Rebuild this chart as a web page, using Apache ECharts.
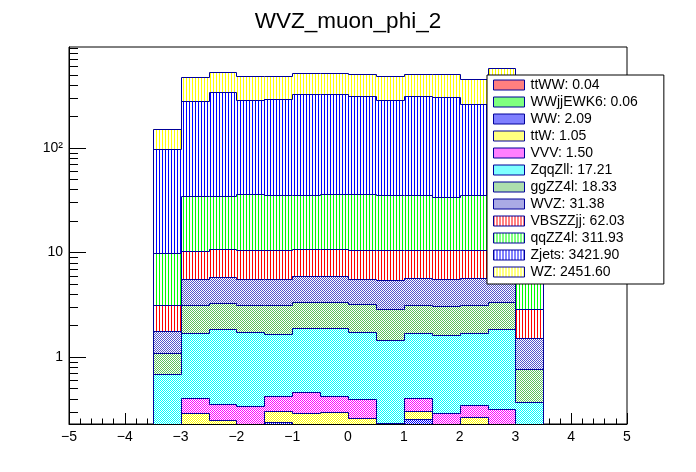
<!DOCTYPE html>
<html>
<head>
<meta charset="utf-8">
<script src="https://cdn.jsdelivr.net/npm/echarts@6/dist/echarts.min.js"></script>
<style>
  html,body{margin:0;padding:0;background:#fff;}
  #main{width:696px;height:472px;}
</style>
</head>
<body>
<div id="main"></div>
<script>
// bins of 0.5 from -3.5 to 3.5 (lower edges)
const binLow = [-3.5,-3,-2.5,-2,-1.5,-1,-0.5,0,0.5,1,1.5,2,2.5,3];
const BIN_W = 0.5;

// per-bin contents, stacked bottom -> top in this order
const ttWW     = [0,0,0,0,0.01,0,0.01,0,0,0.01,0,0.01,0,0];
const WWjjEWK6 = [0,0,0,0.015,0,0.015,0,0,0.015,0,0.015,0,0,0];
const WW       = [0.05,0.18,0.2,0.15,0.227,0.19,0.17,0.16,0.1,0.245,0.12,0.16,0.1,0.04];
const ttW      = [0.08,0.113,0.048,0.05,0.065,0.084,0.116,0.099,0.08,0.047,0.07,0.097,0.07,0.03];
const VVV      = [0.08,0.11,0.109,0.1225,0.121,0.171,0.127,0.137,0.039,0.101,0.084,0.08,0.146,0.07];
const ZqqZll   = [0.478,1.294,1.484,1.398,1.226,1.422,1.459,1.339,1.211,1.294,1.335,1.35,1.525,0.229];
const ggZZ4l   = [0.397,1.448,1.424,1.41,1.496,1.456,1.456,1.459,1.415,1.448,1.452,1.448,1.497,0.394];
const WVZ      = [0.677,2.396,2.565,2.433,2.433,2.621,2.582,2.384,2.56,2.52,2.502,2.557,2.45,0.747];
const VBSZZjj  = [1.383,4.8,4.97,4.99,4.99,4.84,4.88,4.99,5.08,4.835,4.92,4.8,4.3,1.35];
const qqZZ4l   = [6.69,24.62,24.16,25.49,24.7,24.47,25.26,25.49,24.77,24.77,23.25,24.77,26,6.9];
const Zjets    = [87.4,244.8,308.5,250,257.1,291.2,290.4,276.3,250.7,277.1,271.9,226.7,300,80];
const WZ       = [54,195,186.5,200,194,192,192,191,200,195,201,192.5,243,50];

const names  = ['ttWW','WWjjEWK6','WW','ttW','VVV','ZqqZll','ggZZ4l','WVZ','VBSZZjj','qqZZ4l','Zjets','WZ'];
const totals = ['0.04','0.06','2.09','1.05','1.50','17.21','18.33','31.38','62.03','311.93','3421.90','2451.60'];
const values = [ttWW,WWjjEWK6,WW,ttW,VVV,ZqqZll,ggZZ4l,WVZ,VBSZZjj,qqZZ4l,Zjets,WZ];

// log axis minor ticks
const yMinorTicks = [0.3,0.4,0.5,0.6,0.7,0.8,0.9,2,3,4,5,6,7,8,9,20,30,40,50,60,70,80,90,200,300,400,500,600,700,800,900];

const YMIN = 0.2285, YMAX = 920, XMIN = -5, XMAX = 5;
const NAVY = '#000099';
const FONT = 'Liberation Sans';
const DPR = Math.max(1, Math.round(window.devicePixelRatio || 1));

// patterns are built at device resolution and scaled back, so they stay pixel sharp
function checker(color){
  const c = document.createElement('canvas');
  c.width = 2*DPR; c.height = 2*DPR;
  const g = c.getContext('2d');
  g.fillStyle = '#fff'; g.fillRect(0,0,2*DPR,2*DPR);
  g.fillStyle = color; g.fillRect(0,0,DPR,DPR); g.fillRect(DPR,DPR,DPR,DPR);
  return {image:c, repeat:'repeat', scaleX:1/DPR, scaleY:1/DPR};
}
function stripes(color){
  const c = document.createElement('canvas');
  c.width = 3*DPR; c.height = DPR;
  const g = c.getContext('2d');
  g.fillStyle = '#fff'; g.fillRect(0,0,3*DPR,DPR);
  g.fillStyle = color; g.fillRect(0,0,DPR,DPR);
  return {image:c, repeat:'repeat', scaleX:1/DPR, scaleY:1/DPR};
}

const fills = [
  checker('#ff0000'), checker('#00ff00'), checker('#0000ff'), checker('#ffff00'),
  checker('#ff00ff'), checker('#00ffff'), checker('#5cc05c'), checker('#5555cc'),
  stripes('#ff0000'), stripes('#00ff00'), stripes('#0000ff'), stripes('#ffff00')
];

const clampV = v => Math.min(Math.max(v, YMIN), YMAX);
const crisp = v => Math.round(v) + 0.5;

function renderBand(params, api){
  const x0 = api.value(0), x1 = api.value(1);
  const lo = api.value(2), hi = api.value(3), prev = api.value(4), last = api.value(5);
  const fill = fills[params.seriesIndex];
  const tl = api.coord([x0, clampV(hi)]);
  const br = api.coord([x1, clampV(lo)]);
  const children = [];
  if (hi > YMIN) {
    const left = Math.round(tl[0]), top = Math.round(tl[1]);
    children.push({
      type:'rect',
      shape:{x:left, y:top, width:Math.round(br[0])-left, height:Math.round(br[1])-top},
      style:{fill:fill},
      z2:0
    });
  }
  if (hi > YMIN || prev > YMIN) {
    const pPrev = api.coord([x0, clampV(prev)]);
    const pts = [[crisp(tl[0]), crisp(pPrev[1])], [crisp(tl[0]), crisp(tl[1])], [crisp(br[0]), crisp(tl[1])]];
    if (last) pts.push([crisp(br[0]), crisp(api.coord([x1, YMIN])[1])]);
    children.push({
      type:'polyline',
      shape:{points:pts},
      style:{stroke:NAVY, lineWidth:1, fill:null},
      z2:10
    });
  }
  return {type:'group', children:children};
}

// build stacked bands
const cum = binLow.map(() => 0);
const series = [];
values.forEach(function(arr, k){
  const lower = cum.slice();
  arr.forEach(function(v, i){ cum[i] += v; });
  const upper = cum.slice();
  const data = binLow.map(function(x, i){
    return [x, x + BIN_W, lower[i], upper[i], i === 0 ? 0 : upper[i-1], i === binLow.length-1 ? 1 : 0];
  });
  series.push({
    name:names[k],
    type:'custom',
    renderItem:renderBand,
    encode:{x:[0,1], y:[2,3]},
    clip:true,
    data:data,
    z:2
  });
});

series.push({
  name:'minor',
  type:'custom',
  renderItem:function(params, api){
    const p = api.coord([api.value(0), api.value(1)]);
    return {type:'line', shape:{x1:p[0], y1:crisp(p[1]), x2:p[0]+9, y2:crisp(p[1])}, style:{stroke:'#000', lineWidth:1}};
  },
  encode:{x:0, y:1},
  data:yMinorTicks.map(v => [XMIN, v]),
  silent:true,
  z:4
});

const chart = echarts.init(document.getElementById('main'), null, {renderer:'canvas'});
chart.setOption({
  animation:false,
  backgroundColor:'#fff',
  title:{
    text:'WVZ_muon_phi_2',
    left:'center',
    top:5,
    textStyle:{fontFamily:FONT, fontSize:22.5, fontWeight:'normal', color:'#000'}
  },
  legend:{
    orient:'vertical',
    left:487,
    top:75,
    selectedMode:false,
    backgroundColor:'#fff',
    borderColor:'#000',
    borderWidth:1,
    padding:[3,26,5,6],
    itemWidth:31,
    itemHeight:10,
    itemGap:3,
    icon:'rect',
    textStyle:{fontFamily:FONT, fontSize:14, color:'#000', padding:[0,0,0,1]},
    data:names.map(function(n, k){
      return {name:n, itemStyle:{color:fills[k], borderColor:NAVY, borderWidth:1}};
    }),
    formatter:function(n){ return n + ': ' + totals[names.indexOf(n)]; },
    z:10
  },
  grid:{
    left:69, right:69, top:47, bottom:48,
    show:true, borderColor:'#000', borderWidth:1, backgroundColor:'#fff'
  },
  xAxis:{
    type:'value',
    min:XMIN, max:XMAX, interval:1,
    axisLine:{onZero:false, lineStyle:{color:'#000', width:1}},
    axisTick:{inside:true, length:11, lineStyle:{color:'#000'}},
    minorTick:{show:true, splitNumber:5, length:5.5, lineStyle:{color:'#000'}},
    splitLine:{show:false},
    axisLabel:{
      fontFamily:FONT, fontSize:14, color:'#000', margin:6,
      formatter:function(v){ return v < 0 ? '\u2212' + (-v) : String(v); }
    }
  },
  yAxis:{
    type:'log',
    logBase:10,
    min:YMIN, max:YMAX,
    axisLine:{show:true, onZero:false, lineStyle:{color:'#000', width:1}},
    axisTick:{inside:true, length:17, lineStyle:{color:'#000'}},
    splitLine:{show:false},
    axisLabel:{
      fontFamily:FONT, fontSize:14, color:'#000', margin:6,
      showMinLabel:false, showMaxLabel:false,
      formatter:function(v){
        const l = Math.log10(v), r = Math.round(l);
        if (Math.abs(l - r) > 1e-6) return '';
        return r === 0 ? '1' : r === 1 ? '10' : r === 2 ? '10\u00b2' : '';
      }
    }
  },
  series:series
});
</script>
</body>
</html>
